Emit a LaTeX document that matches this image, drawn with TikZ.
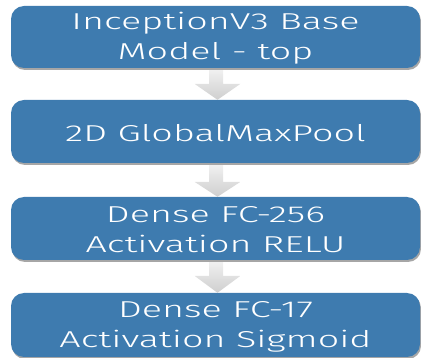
\documentclass[tikz,border=0pt]{standalone}
\usepackage{fontspec}
\setmainfont{Fira Sans Light}
\usetikzlibrary{calc,shadows}
\definecolor{boxblue}{RGB}{62,123,175}
\tikzset{
  layerbox/.style={draw=none, fill=boxblue, rounded corners=13pt, minimum width=409pt,
    inner sep=0pt, text=white, align=center, font=\fontsize{23}{30}\selectfont,
    drop shadow={shadow xshift=1pt, shadow yshift=-2pt, opacity=0.35, fill=black}},
  flowarrow/.style={top color=gray!12, bottom color=gray!38, draw=none}
}
\newcommand{\wtxt}[1]{\raisebox{-1.5pt}[\height][\depth]{\scalebox{1.64}[1]{#1}}}
\begin{document}
\begin{tikzpicture}[x=1pt,y=1pt]
\useasboundingbox (0,0) rectangle (421,-358);
\node[layerbox, minimum height=62pt] (b1) at (215.5,-37) {\wtxt{InceptionV3 Base}\\\wtxt{Model - top}};
\node[layerbox, minimum height=63pt] (b2) at (215.5,-131.5) {\wtxt{2D GlobalMaxPool}};
\node[layerbox, minimum height=63pt] (b3) at (215.5,-228.5) {\wtxt{Dense FC-256}\\\wtxt{Activation RELU}};
\node[layerbox, minimum height=64pt] (b4) at (215.5,-325) {\wtxt{Dense FC-17}\\\wtxt{Activation Sigmoid}};
\foreach \a/\b/\h in {b1/b2/16, b2/b3/15, b3/b4/17}{
  \coordinate (tip) at ($(\b.north)+(2,0)$);
  \shade[flowarrow] ($(\a.south)+(-6.5,-2)$) -- ($(\a.south)+(7.5,-2)$) |- ($(tip)+(23,\h)$) -- (tip) -- ($(tip)+(-23,\h)$) -| cycle;
}
\end{tikzpicture}
\end{document}
